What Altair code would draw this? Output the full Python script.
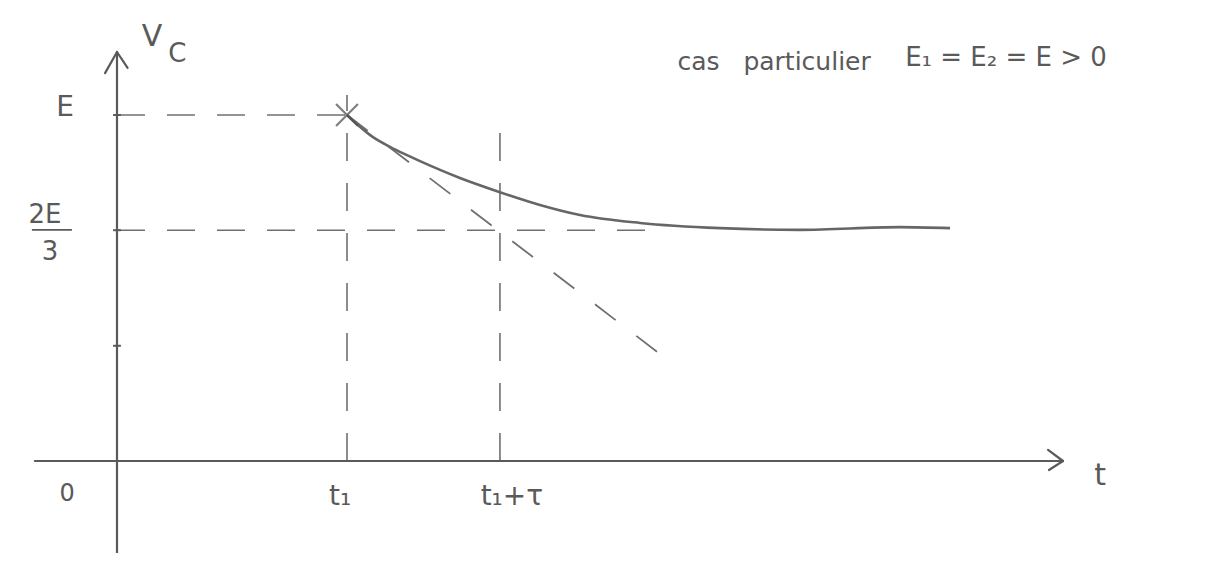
import altair as alt
import pandas as pd

# ---- data (t in units of t1, v in units of E) ----
curve_t = [1.0, 1.113, 1.187, 1.261, 1.374, 1.491, 1.665, 1.839, 2.013, 2.274, 2.622, 2.970, 3.404, 3.622]
curve_v = [1.0, 0.936, 0.908, 0.884, 0.850, 0.818, 0.777, 0.740, 0.711, 0.688, 0.673, 0.668, 0.676, 0.673]

tangent_t = [1.0, 2.383]
tangent_v = [1.0, 0.298]

t1 = 1.0
t1_tau = 1.665
E = 1.0
two_thirds_E = 0.667
third_E = 0.333

# guide (dashed) segments: t, v, t2, v2
guide_t = [0.0, 0.0, t1, t1_tau]
guide_v = [E, two_thirds_E, 0.0, 0.0]
guide_t2 = [t1, 2.32, t1, t1_tau]
guide_v2 = [E, two_thirds_E, 1.058, 0.991]

# axis segments: x-axis, y-axis, arrowheads
axis_t = [-0.357, 0.0, 4.113, 4.113, 0.0, 0.0]
axis_v = [0.0, -0.266, 0.0, 0.0, 1.182, 1.182]
axis_t2 = [4.113, 0.0, 4.048, 4.052, -0.052, 0.046]
axis_v2 = [0.0, 1.182, 0.032, -0.026, 1.121, 1.136]

ytick_v = [E, two_thirds_E, third_E]

NB = "\u00a0"
labels = ["V", "C", "E", "2E", "3", "0", "t₁", "t₁+τ", "t",
          "cas" + NB * 3 + "particulier", "E₁ = E₂ = E > 0"]
label_t = [0.152, 0.262, -0.226, -0.313, -0.291, -0.217, 0.97, 1.717, 4.274, 2.857, 3.865]
label_v = [1.225, 1.175, 1.020, 0.711, 0.604, -0.095, -0.104, -0.104, -0.043, 1.153, 1.165]
label_size = [30, 26, 28, 26, 26, 24, 28, 28, 30, 25, 26]

frac_t = [-0.370]
frac_t2 = [-0.196]
frac_v = [0.668]

# ---- scales ----
xs = alt.Scale(domain=[-0.4739, 4.7565], nice=False, zero=False)
ys = alt.Scale(domain=[-0.2659, 1.3092], nice=False, zero=False)
INK = "#5a5a5a"

def X(f="t"):
    return alt.X(f"{f}:Q", scale=xs, axis=None)

def Y(f="v"):
    return alt.Y(f"{f}:Q", scale=ys, axis=None)

axes_df = pd.DataFrame({"t": axis_t, "v": axis_v, "t2": axis_t2, "v2": axis_v2})
axes = alt.Chart(axes_df).mark_rule(color=INK, strokeWidth=2.2, strokeCap="round").encode(
    x=X(), y=Y(), x2="t2:Q", y2="v2:Q")

tick_df = pd.DataFrame({"v": ytick_v, "t": [-0.017] * 3, "t2": [0.017] * 3})
ticks = alt.Chart(tick_df).mark_rule(color=INK, strokeWidth=2).encode(
    x=X(), x2="t2:Q", y=Y())

guide_df = pd.DataFrame({"t": guide_t, "v": guide_v, "t2": guide_t2, "v2": guide_v2})
guides = alt.Chart(guide_df).mark_rule(color="#707070", strokeWidth=1.6, strokeDash=[28, 22]).encode(
    x=X(), y=Y(), x2="t2:Q", y2="v2:Q")

tan_df = pd.DataFrame({"t": [tangent_t[0]], "v": [tangent_v[0]], "t2": [tangent_t[1]], "v2": [tangent_v[1]]})
tangent = alt.Chart(tan_df).mark_rule(color="#707070", strokeWidth=1.8, strokeDash=[26, 26]).encode(
    x=X(), y=Y(), x2="t2:Q", y2="v2:Q")

curve_df = pd.DataFrame({"t": curve_t, "v": curve_v})
curve = alt.Chart(curve_df).mark_line(color="#666666", strokeWidth=2.6, interpolate="monotone").encode(
    x=X(), y=Y(), order="t:Q")

cross_df = pd.DataFrame({"t": [t1], "v": [E]})
cross = alt.Chart(cross_df).mark_point(shape="M -1 -1 L 1 1 M -1 1 L 1 -1", size=480, color="#4a4a4a",
                                       strokeWidth=2.2).encode(x=X(), y=Y())

frac_df = pd.DataFrame({"t": frac_t, "t2": frac_t2, "v": frac_v})
frac = alt.Chart(frac_df).mark_rule(color=INK, strokeWidth=1.8).encode(x=X(), x2="t2:Q", y=Y())

lab_df = pd.DataFrame({"t": label_t, "v": label_v, "label": labels, "size": label_size})
texts = alt.Chart(lab_df).mark_text(color=INK, font="DejaVu Sans", align="center", baseline="middle").encode(
    x=X(), y=Y(), text="label:N", size=alt.Size("size:Q", scale=None, legend=None))

chart = alt.layer(guides, tangent, axes, ticks, curve, cross, frac, texts).properties(
    width=1203, height=545, padding=0, autosize=alt.AutoSizeParams(type="none"),
    background="white"
).configure_view(stroke=None)

chart.save("out.html", embed_options={"renderer": "svg", "actions": False})
